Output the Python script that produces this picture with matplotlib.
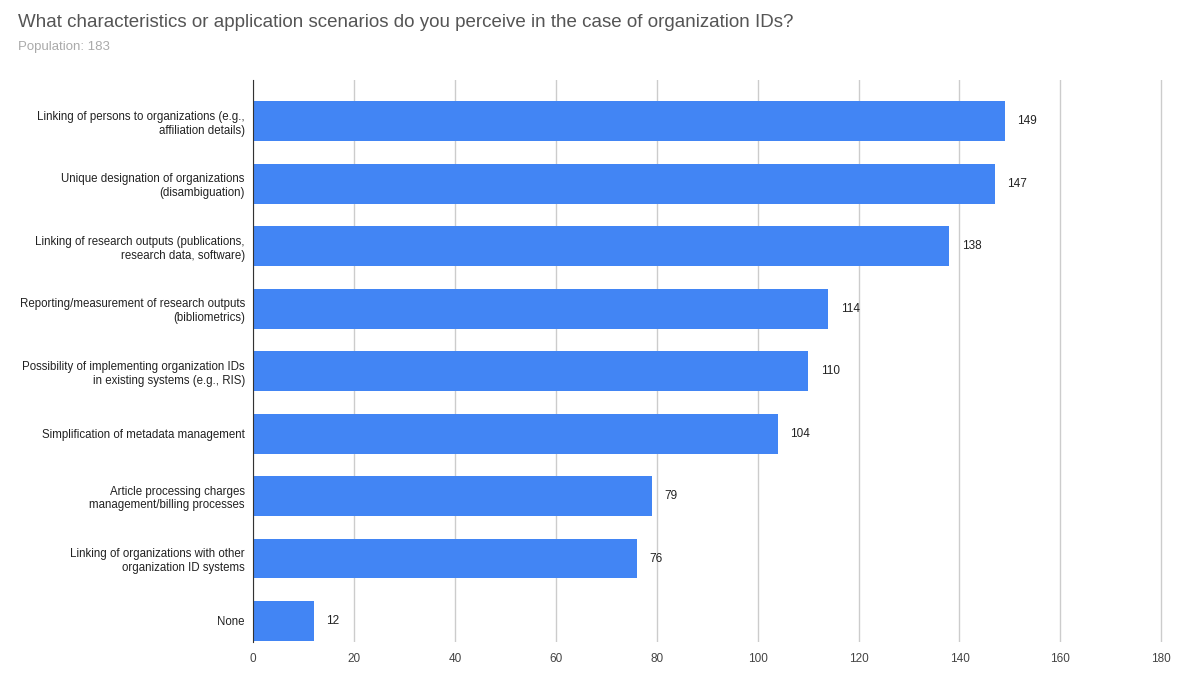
import matplotlib.pyplot as plt

plt.rcParams['font.family'] = ['Liberation Sans', 'DejaVu Sans']

# Data
labels = ["Linking of persons to organizations (e.g.,\naffiliation details)",
          "Unique designation of organizations\n(disambiguation)",
          "Linking of research outputs (publications,\nresearch data, software)",
          "Reporting/measurement of research outputs\n(bibliometrics)",
          "Possibility of implementing organization IDs\nin existing systems (e.g., RIS)",
          "Simplification of metadata management",
          "Article processing charges\nmanagement/billing processes",
          "Linking of organizations with other\norganization ID systems",
          "None"]
counts = [149, 147, 138, 114, 110, 104, 79, 76, 12]
xticks = [0, 20, 40, 60, 80, 100, 120, 140, 160, 180]

fig = plt.figure(figsize=(12, 6.98), dpi=100)
ax = fig.add_axes([0.211, 0.080, 0.758, 0.805])

y = range(len(counts))
ax.barh(y, counts, height=0.64, color='#4285f4', zorder=3)
for i, v in enumerate(counts):
    ax.text(v + 2.5, i, str(v), va='center', ha='left', fontsize=8.5, color='#222222')

ax.set_ylim(len(counts) - 0.66, -0.66)
ax.set_xlim(0, 180.3)
ax.set_xticks(xticks)
ax.set_yticks(list(y))
ax.set_yticklabels(labels, fontsize=8.3, color='#222222')
ax.tick_params(axis='x', labelsize=8.5, colors='#444444', length=0, pad=8)
ax.tick_params(axis='y', length=0, pad=6)
ax.grid(axis='x', color='#cccccc', linewidth=1, zorder=0)
for s in ['top', 'right', 'bottom']:
    ax.spines[s].set_visible(False)
ax.spines['left'].set_color('#333333')
ax.spines['left'].set_zorder(4)

fig.text(0.015, 0.968, "What characteristics or application scenarios do you perceive in the case of organization IDs?",
         fontsize=13.5, color='#555555', va='center')
fig.text(0.015, 0.933, "Population: 183", fontsize=9.5, color='#aaaaaa', va='center')

fig.savefig('out.png', dpi=100)
